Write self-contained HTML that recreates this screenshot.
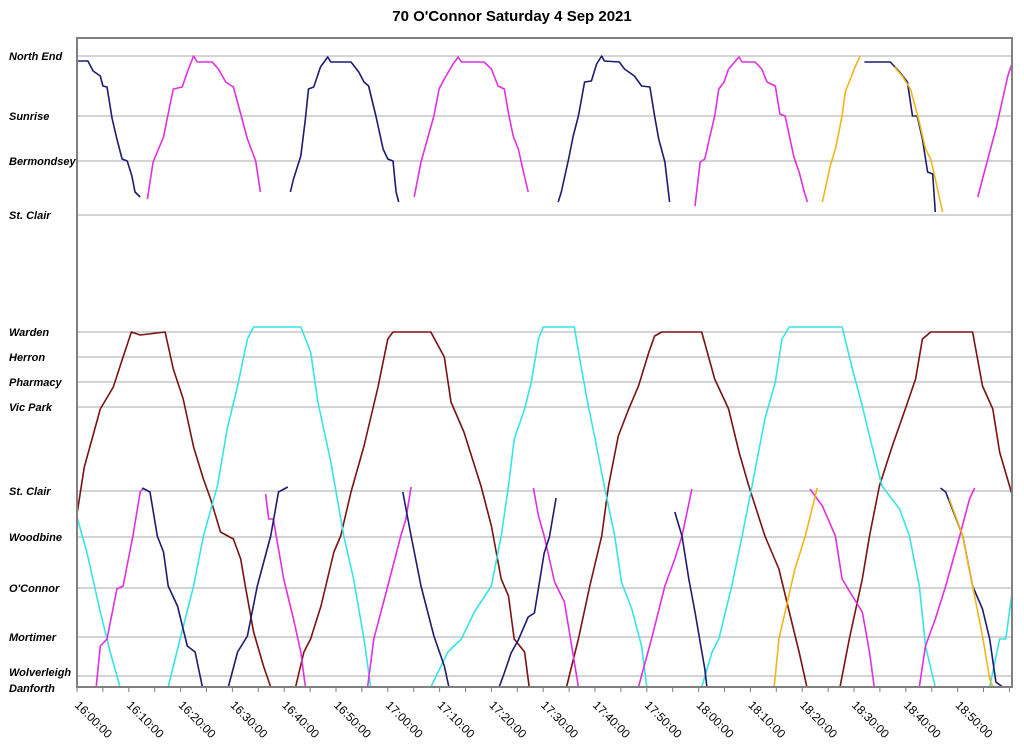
<!DOCTYPE html>
<html><head><meta charset="utf-8"><style>
html,body{margin:0;padding:0;background:#fff;}
svg{display:block;font-family:"Liberation Sans",Arial,sans-serif;}
</style></head><body>
<svg id="chart" width="1024" height="746" viewBox="0 0 1024 746">
<text x="512" y="21" text-anchor="middle" font-size="15" font-weight="bold">70 O'Connor Saturday 4 Sep 2021</text>
<g id="grid"></g>
<g id="ylabels"></g>
<g id="series"></g>
<g id="xaxis"></g>
<rect x="77" y="38" width="935" height="649" fill="none" stroke="#808080" stroke-width="2"/>
</svg>
<script>
// stations: name + distance (km-like units)
const stationNames = ["North End","Sunrise","Bermondsey","St. Clair","Warden","Herron","Pharmacy","Vic Park","St. Clair","Woodbine","O'Connor","Mortimer","Wolverleigh","Danforth"];
const stationDist = [63.1,57.1,52.6,47.2,35.5,33.0,30.5,28.0,19.6,15.0,9.9,5.0,1.1,0];
const tickLabels = ["16:00:00","16:10:00","16:20:00","16:30:00","16:40:00","16:50:00","17:00:00","17:10:00","17:20:00","17:30:00","17:40:00","17:50:00","18:00:00","18:10:00","18:20:00","18:30:00","18:40:00","18:50:00"];
const tickMinutes = [0,10,20,30,40,50,60,70,80,90,100,110,120,130,140,150,160,170];
// trips: [minute after 16:00, distance]
const maroonTrip = [[0,17.3],[1.4,22],[4.5,27.8],[7.0,30],[8.7,32.7],[10.5,35.5],[12.2,35.2],[17.0,35.5],[18.6,31.8],[20.5,28.8],[22.5,24],[24.4,20.8],[25.8,18.8],[27.7,15.5],[30.2,14.8],[31.6,12.8],[32.5,10.1],[34.1,5.5],[36.0,2.1],[37.4,0],[42.2,0],[43.8,3.5],[45.1,4.8],[47.1,8.1],[49.6,13.5],[50.9,15.1],[52.9,19.5],[55.4,24.1],[58.1,30],[60.0,34.8],[61.0,35.5],[68.3,35.5],[70.9,33],[72.2,28.5],[74.7,25.5],[78.0,20.1],[80.0,16.1],[81.9,10.8],[83.3,9.1],[84.4,4.8],[86.4,3.5],[87.3,0],[94.5,0],[96.8,4.8],[99.0,10.1],[101.3,15.1],[102.6,20.1],[104.5,25.1],[106.5,27.8],[108.4,30.1],[110.4,33.5],[111.5,35.1],[112.9,35.5],[120.6,35.5],[123.1,30.8],[125.8,27.8],[127.8,23.5],[129.7,20.1],[132.8,15.1],[135.5,11.8],[137.5,7.5],[139.4,3.5],[140.9,0],[147.3,0],[149.1,4.8],[151.6,10.8],[153.0,15.1],[154.9,20.1],[157.4,24.1],[159.9,27.8],[161.9,30.8],[163.2,34.8],[164.8,35.5],[172.9,35.5],[174.8,30.1],[176.8,27.8],[178.1,23.5],[180.6,19.1]];
const cyanTrip = [[0,17],[1.9,13.5],[4.5,7.5],[6.4,3.5],[8.3,0],[17.6,0],[19.9,4.8],[22.5,10.1],[24.4,15.1],[27.1,20.1],[29.0,25.8],[31.0,30.1],[32.9,34.8],[34.1,36],[43.2,36],[45.1,33.5],[46.5,28.5],[49.0,22.5],[51.5,15.1],[53.4,10.8],[55.4,4.8],[56.7,0],[68.3,0],[71.6,3.5],[74.2,4.8],[76.7,7.5],[80.0,10.1],[81.9,15.1],[83.3,20.1],[84.4,24.8],[86.4,27.8],[87.7,30.5],[89.1,34.8],[90.0,36],[96.0,36],[97.4,31.8],[98.7,28.1],[99.9,25.1],[101.8,20.1],[103.8,15.1],[105.1,10.5],[107.1,7.8],[109.0,4.1],[110.0,0],[120.6,0],[122.6,3.5],[123.9,4.8],[126.4,10.1],[128.4,15.1],[130.3,20.1],[132.8,26.8],[134.8,30.5],[136.1,34.8],[137.5,36],[147.7,36],[149.7,31.8],[151.6,28.1],[153.0,25.1],[155.4,20.1],[158.8,17.8],[160.7,15.1],[162.6,10.1],[163.8,4.1],[165.7,0],[176.2,0],[178.1,4.8],[179.3,4.8],[180.6,9.8]];
const magentaLow1 = [[0,0],[3.7,0],[4.5,4.1],[5.8,4.8],[7.7,9.8],[8.9,10.1],[10.8,15.1],[12.2,19.5],[12.8,19.9]];
const magentaLow2 = [[36.4,19.3],[37.0,16.8],[37.9,16.8],[39.9,10.8],[41.8,6.8],[43.2,3.5],[44.1,0],[56.1,0],[57.3,4.8],[60.0,10.1],[62.5,15.1],[63.5,16.8],[64.5,20.0]];
const magentaLow3 = [[88.1,19.9],[89.1,17.1],[90.2,15.1],[92.2,10.5],[94.1,8.5],[95.5,4.1],[96.8,0],[108.4,0],[110.9,4.8],[113.5,10.1],[115.4,12.8],[116.8,15.1],[118.7,19.8]];
const magentaLow4 = [[141.5,19.8],[143.9,18.1],[146.4,15.1],[147.7,10.8],[149.7,9.1],[151.6,7.5],[153.0,3.5],[153.9,0],[162.6,0],[163.8,4.1],[165.7,6.8],[167.7,10.1],[170.4,15.1],[172.3,18.8],[173.3,19.9]];
const navyLow1 = [[12.6,19.9],[14.1,19.5],[15.5,15.1],[16.7,13.5],[17.6,10.1],[19.4,8.1],[21.3,4.1],[22.8,3.5],[24.2,0],[29.2,0],[31.0,3.5],[32.9,5.1],[34.8,10.1],[37.4,15.1],[38.9,19.5],[40.7,20.0]];
const navyLow2 = [[62.9,19.5],[64.5,15.1],[66.4,10.1],[68.9,5.1],[70.9,2.1],[71.8,0],[81.5,0],[82.5,1.4],[83.8,3.4],[85.2,4.7],[87.1,7.0],[88.3,7.4],[90.2,13.4],[91.2,15.0],[92.5,18.9]];
const navyLow3 = [[115.4,17.5],[116.8,15.1],[118.1,10.8],[119.3,7.5],[121.2,1.8],[121.6,0],[128.4,0]];
const navyLow4 = [[166.7,19.9],[167.7,19.5],[171.0,15.1],[172.9,10.1],[174.8,7.8],[176.2,4.8],[177.4,0.5],[178.7,0],[180.6,0]];
const orangeLow1 = [[128.8,0],[134.6,0],[135.5,4.8],[136.7,7.5],[138.6,11.8],[140.6,15.1],[142.9,19.9]];
const orangeLow2 = [[168.4,18.8],[171.0,15.1],[172.9,10.1],[174.8,5.1],[176.2,0.8],[176.8,0],[180.6,0]];
const navyUp1 = [[0,62.6],[2.1,62.6],[3.1,61.6],[4.5,61.1],[5.0,60.1],[5.8,60],[6.8,56.8],[7.7,54.8],[8.7,52.8],[9.7,52.6],[10.6,51.1],[11.2,49.5],[12.2,49.0]];
const magentaUp1 = [[13.6,48.8],[14.7,52.5],[16.7,55],[17.4,56.8],[18.6,59.8],[20.3,60],[21.3,61.5],[22.5,63.1],[23.2,62.5],[26.1,62.5],[27.3,61.8],[28.7,60.5],[30.2,60],[31.6,57.3],[32.9,54.8],[34.5,52.6],[35.4,49.5]];
const navyUp2 = [[41.2,49.5],[41.8,50.8],[43.2,53.1],[44.1,56.8],[44.7,59.8],[45.7,60],[47.0,62],[48.4,63],[49.0,62.5],[52.9,62.5],[54.4,61.5],[55.4,60.5],[56.3,60.1],[57.7,57.1],[59.1,53.8],[60.0,52.8],[61.0,52.6],[61.6,49.5],[62.1,48.5]];
const magentaUp2 = [[65.1,49],[66.4,52.5],[68.9,57.1],[69.9,59.8],[70.9,60.8],[72.6,62.3],[73.6,63],[74.2,62.5],[78.6,62.5],[80.0,61.8],[81.3,60.1],[82.5,59.8],[83.4,57.1],[84.2,55.1],[85.2,53.8],[86.2,51.5],[87.1,49.5]];
const navyUp3 = [[92.9,48.5],[93.5,49.5],[94.9,52.8],[95.8,55.1],[96.8,57.1],[98.0,60.5],[99.3,60.6],[100.3,62.3],[101.3,63.1],[101.8,62.6],[104.7,62.5],[105.7,61.8],[107.6,61.1],[109.0,60.1],[110.6,60],[111.5,57.1],[112.3,54.8],[113.5,52.5],[114.4,48.5]];
const magentaUp3 = [[119.3,48.1],[120.3,52.5],[121.2,52.8],[122.2,55.1],[123.1,57.1],[123.9,59.8],[124.9,60.5],[125.8,61.8],[127.8,63],[128.4,62.5],[130.9,62.5],[132.2,61.8],[133.2,60.5],[134.8,60.1],[135.7,57.3],[136.7,57.1],[138.4,53],[139.4,51.5],[140.4,49.5],[141.0,48.5]];
const orangeUp1 = [[143.9,48.5],[145.4,52.1],[146.4,53.8],[147.7,57.1],[148.3,59.5],[149.3,60.8],[150.2,62],[151.2,63.1]];
const navyUp4 = [[152.0,62.5],[157.0,62.5],[158.8,61.5],[160.3,60.5],[161.3,57.1],[162.2,57.1],[163.2,54.8],[164.2,51.5],[165.2,51.3],[165.7,47.5]];
const orangeUp2 = [[157.8,62],[159.3,61.1],[160.9,59.8],[162.6,56.5],[163.8,53.8],[164.8,52.8],[165.7,50.8],[167.1,47.5]];
const magentaUp4 = [[173.9,49],[174.8,50.8],[176.2,53.5],[177.4,55.8],[178.4,58.1],[179.7,61.1],[180.6,62.5]];

const NS='http://www.w3.org/2000/svg';
const X0=77, PXPM=5.18, YB=687, PXPK=10;
function xs(t){return X0+t*PXPM;}
function ys(d){return YB-d*PXPK;}
const grid=document.getElementById('grid'), yl=document.getElementById('ylabels'), ser=document.getElementById('series'), xa=document.getElementById('xaxis');
stationNames.forEach((n,i)=>{
  const y=ys(stationDist[i]);
  const l=document.createElementNS(NS,'line');
  l.setAttribute('x1',X0);l.setAttribute('x2',1012);l.setAttribute('y1',y);l.setAttribute('y2',y);
  l.setAttribute('stroke','#a8a8a8');l.setAttribute('stroke-width','1');
  
  
  grid.appendChild(l);
  const t=document.createElementNS(NS,'text');
  let ty=y+4; if(n==='Wolverleigh') ty=y; if(n==='Danforth') ty=y+5;
  t.setAttribute('x',9);t.setAttribute('y',ty);t.setAttribute('font-size','11');
  t.setAttribute('font-weight','bold');t.setAttribute('font-style','italic');
  t.textContent=n;
  
  
  yl.appendChild(t);
});
for(let m=0;m<=180;m+=5){
  const l=document.createElementNS(NS,'line');
  l.setAttribute('x1',xs(m));l.setAttribute('x2',xs(m));l.setAttribute('y1',YB);l.setAttribute('y2',YB+5);
  l.setAttribute('stroke','#808080');
  
  
  xa.appendChild(l);
}
tickLabels.forEach((s,i)=>{
  const x=xs(tickMinutes[i]);
  const t=document.createElementNS(NS,'text');
  t.setAttribute('x',x);t.setAttribute('y',707);t.setAttribute('font-size','12');
  t.setAttribute('transform','rotate(45 '+x+' 703)');
  t.textContent=s;
  
  
  xa.appendChild(t);
});
const C={navy:'#1c1c70',magenta:'#e030e0',maroon:'#7a1212',cyan:'#38e4e4',orange:'#f2b51a'};
const trips=[[maroonTrip,'maroon'],[cyanTrip,'cyan'],[magentaLow1,'magenta'],[magentaLow2,'magenta'],[magentaLow3,'magenta'],[magentaLow4,'magenta'],[navyLow1,'navy'],[navyLow2,'navy'],[navyLow3,'navy'],[navyLow4,'navy'],[orangeLow1,'orange'],[orangeLow2,'orange'],[navyUp1,'navy'],[magentaUp1,'magenta'],[navyUp2,'navy'],[magentaUp2,'magenta'],[navyUp3,'navy'],[magentaUp3,'magenta'],[orangeUp1,'orange'],[navyUp4,'navy'],[orangeUp2,'orange'],[magentaUp4,'magenta']];
trips.forEach(([pts,c])=>{
  const p=document.createElementNS(NS,'polyline');
  p.setAttribute('points',pts.map(q=>xs(q[0]).toFixed(1)+','+ys(q[1]).toFixed(1)).join(' '));
  p.setAttribute('fill','none');p.setAttribute('stroke',C[c]);p.setAttribute('stroke-width','1.6');
  p.setAttribute('stroke-linejoin','round');
  
  
  ser.appendChild(p);
});
</script>
</body></html>
